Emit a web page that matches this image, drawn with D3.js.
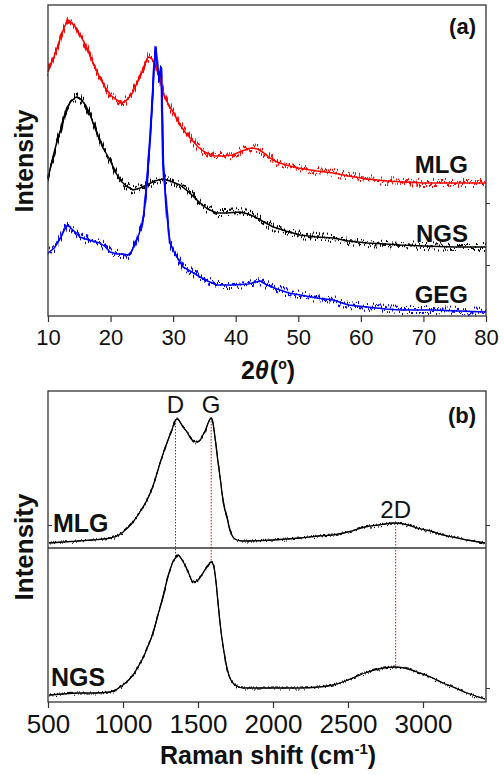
<!DOCTYPE html>
<html>
<head>
<meta charset="utf-8">
<script src="https://cdn.jsdelivr.net/npm/d3@7"></script>
<style>
  body { margin: 0; background: #fff; }
  text { font-family: "Liberation Sans", Arial, sans-serif; }
</style>
</head>
<body>
<svg id="fig" width="504" height="775"></svg>
<script>
// ---- XRD patterns, (a): [2theta (deg), intensity (a.u., offset stacked)] ----
const xrdMLG = [
  [10,244],[10.5,252],[11,260],[11.5,269],[12,278],[12.6,289],[13.2,296],[13.8,293],
  [14.5,288],[15.2,280],[16,271],[17,256],[18.3,238],[19.2,228],[20,221],[21,216],
  [21.8,213],[22.6,216],[23.5,223],[24.3,234],[25,244],[25.6,254],[26,259],[26.5,258],
  [27,253],[27.5,244],[28,234],[28.5,221],[29.2,212],[30,204],[31,192],[32,183],
  [33,176],[34,169],[35,164],[36.5,160],[38,160],[39.5,161],[41,165],[42.5,168],
  [43.5,167],[44.5,163],[45.5,158],[46.6,154],[48,151],[50,148],[53,145],[55.6,143],
  [58,140],[61,137],[64,135],[67,134],[70,133],[75,133],[80,133]
];
const xrdNGS = [
  [10,138],[10.5,151],[11,164],[11.5,176],[12,186],[12.5,198],[13,208],[13.7,215],
  [14.5,219],[15.2,217],[16,211],[16.8,200],[17.8,183],[18.8,168],[19.9,156],[20.8,144],
  [21.5,136],[22.5,130],[23.6,126],[24.7,128],[25.8,131],[27,135],[28.4,137],[29.5,135],
  [31.1,131],[32.5,124],[34.3,113],[35.5,107],[37,103],[38.5,103],[40.7,104],[42,102],
  [43.4,98],[44.5,94],[46,89],[48,85],[50.3,81],[53,79],[55.6,78],[58,75],[61,73],
  [64,72],[66.3,71],[70,70],[75,69],[80,69]
];
const xrdGEG = [
  [10,63],[11,68],[12,78],[12.7,87],[13.2,91],[13.8,87],[14.5,83],[15.1,79],[16.5,76],
  [18.3,73],[19.2,69],[19.9,64],[21,62],[22,62],[22.8,61],[23.4,65],[23.9,73],[24.5,81],
  [25,91],[25.4,106],[25.8,133],[26.2,166],[26.6,206],[26.9,246],[27.2,269],[27.5,248],
  [27.8,236],[28.1,249],[28.4,153],[28.7,126],[29,103],[29.5,73],[30,66],[30.6,59],
  [31.6,49],[33,44],[34.3,39],[35.5,35],[37,31],[39.6,31],[42,32],[43.9,35],[45,31],
  [46.6,27],[48.5,23],[50.3,21],[53,18],[55.6,16],[58,11],[61,9],[64,7],[66.3,6],
  [71.5,6],[80,4]
];
const xrdSeries = [
  { name: "MLG", color: "#ff0000", data: xrdMLG },
  { name: "NGS", color: "#000000", data: xrdNGS },
  { name: "GEG", color: "#0000ff", data: xrdGEG }
];
const xrdTicks = [10, 20, 30, 40, 50, 60, 70, 80];
const xrdRightTicks = [51, 113];

// ---- Raman spectra, (b): [Raman shift (cm-1), intensity (a.u.)] ----
const ramanMLG = [
  [507,5],[600,6],[700,7],[800,8],[913,10],[960,12],[1000,16],[1067,26],[1113,36],
  [1160,48],[1200,62],[1227,75],[1258,90],[1293,105],[1330,120],[1350,128],[1365,129],
  [1380,126],[1400,121],[1427,116],[1450,110],[1470,107],[1493,106],[1515,108],[1533,113],
  [1550,118],[1565,124],[1588,130],[1600,125],[1613,111],[1630,90],[1647,71],[1665,50],
  [1680,38],[1693,31],[1710,20],[1733,11],[1760,8],[1800,7],[2000,8],[2180,10],[2300,12],
  [2400,13],[2500,16],[2613,21],[2700,23],[2818,25],[2900,23],[2960,20],[3050,17],
  [3133,13],[3200,11],[3293,8],[3413,5]
];
const ramanNGS = [
  [507,7],[600,8],[700,9],[800,9],[913,10],[960,13],[1000,17],[1067,27],[1100,35],
  [1133,44],[1167,56],[1200,69],[1233,87],[1267,105],[1290,120],[1313,132],[1335,141],
  [1350,144],[1367,147],[1390,143],[1413,137],[1440,128],[1467,120],[1500,122],[1533,129],
  [1560,135],[1588,140],[1605,136],[1620,120],[1633,100],[1647,79],[1665,58],[1680,44],
  [1693,34],[1710,25],[1733,19],[1760,16],[1800,14],[2000,14],[2180,14],[2300,15],
  [2400,17],[2500,22],[2613,29],[2700,33],[2818,35],[2900,33],[2960,30],[3050,25],
  [3133,19],[3200,15],[3293,9],[3350,6],[3413,3]
];
const ramanTicks = [500, 1000, 1500, 2000, 2500, 3000];
const peakLabels = ["D", "G", "2D"];
const peakShifts = [1350, 1588, 2818];
const peakMLG = [128, 130, 25];
const peakNGS = [144, 140, 35];

const svg = d3.select("#fig");
const frameColor = "#333";

// vertical-only jitter filter giving the traces their noisy band
const defs = svg.append("defs");
function grain(id, freq, amount, seed) {
  const f = defs.append("filter").attr("id", id)
    .attr("x", "-5%").attr("y", "-10%").attr("width", "110%").attr("height", "120%");
  f.append("feTurbulence").attr("type", "fractalNoise")
    .attr("baseFrequency", freq).attr("numOctaves", 1).attr("seed", seed).attr("result", "n");
  // stretch the red noise around 0.5, pin green to 0.5 so there is no sideways shift
  f.append("feColorMatrix").attr("in", "n").attr("type", "matrix")
    .attr("values", "3 0 0 0 -1  0 0 0 0 0.5  0 0 0 0 0  0 0 0 0 1").attr("result", "m");
  f.append("feDisplacementMap").attr("in", "SourceGraphic").attr("in2", "m")
    .attr("scale", amount).attr("xChannelSelector", "G").attr("yChannelSelector", "R");
}
grain("grain", "1.4 0.05", 8, 3);
grain("fine", "0.9 0.05", 3, 7);

// ================= (a) XRD =================
const A = { left: 48, right: 486, top: 5, bottom: 316 };
const xA = d3.scaleLinear().domain([10, 80]).range([A.left, A.right]);
const yA = d3.scaleLinear().domain([0, 311]).range([A.bottom, A.top]);
const lineA = d3.line().x(d => xA(d[0])).y(d => yA(d[1]));

const gA = svg.append("g");
// solid core of each pattern plus its jittered noise band
gA.append("g").selectAll("path").data(xrdSeries).join("path")
  .attr("d", d => lineA(d.data))
  .attr("fill", "none").attr("stroke", d => d.color)
  .attr("stroke-width", 1.5).attr("stroke-linejoin", "round");
gA.append("g").attr("filter", "url(#grain)")
  .selectAll("path").data(xrdSeries).join("path")
  .attr("d", d => lineA(d.data))
  .attr("fill", "none").attr("stroke", d => d.color)
  .attr("stroke-width", 2.2).attr("stroke-linejoin", "round");

gA.append("rect")
  .attr("x", A.left).attr("y", A.top)
  .attr("width", A.right - A.left).attr("height", A.bottom - A.top)
  .attr("fill", "none").attr("stroke", frameColor).attr("stroke-width", 1.3);

const axA = gA.append("g").attr("transform", `translate(0,${A.bottom})`)
  .call(d3.axisBottom(xA).tickValues(xrdTicks).tickSize(6).tickFormat(d3.format("d")));
axA.select(".domain").remove();
axA.selectAll("line").attr("stroke", frameColor).attr("stroke-width", 1.2);
axA.selectAll("text").attr("dy", null).attr("y", 29)
  .attr("font-size", 22).attr("fill", "#111")
  .attr("font-family", "Liberation Sans, Arial, sans-serif");

const rA = gA.append("g").attr("transform", `translate(${A.right},0)`)
  .call(d3.axisRight(yA).tickValues(xrdRightTicks).tickSize(4).tickFormat(""));
rA.select(".domain").remove();
rA.selectAll("line").attr("stroke", frameColor);

gA.selectAll("text.lbl").data([
  { t: "MLG", y: 173 }, { t: "NGS", y: 242 }, { t: "GEG", y: 303 }
]).join("text").attr("class", "lbl")
  .attr("x", 468).attr("y", d => d.y).attr("text-anchor", "end")
  .attr("font-size", 24).attr("font-weight", "bold").attr("fill", "#111")
  .text(d => d.t);

gA.append("text").attr("x", 476).attr("y", 33.5).attr("text-anchor", "end")
  .attr("font-size", 22).attr("font-weight", "bold").attr("fill", "#111").text("(a)");

gA.append("text").attr("transform", "translate(33,161) rotate(-90)")
  .attr("text-anchor", "middle").attr("font-size", 25).attr("font-weight", "bold")
  .attr("fill", "#111").text("Intensity");

const tA = gA.append("text").attr("x", 268).attr("y", 379).attr("text-anchor", "middle")
  .attr("font-family", "DejaVu Serif, Liberation Serif, serif")
  .attr("font-size", 25).attr("font-weight", "bold").attr("fill", "#111");
tA.append("tspan").text("2");
tA.append("tspan").attr("font-style", "italic").text("θ");
tA.append("tspan").attr("dx", 1).text("(");
tA.append("tspan").attr("font-size", 14).attr("dy", -10).text("o");
tA.append("tspan").attr("dy", 10).text(")");

// ================= (b) Raman =================
const B = { left: 48, right: 486, top: 391, mid: 548, bottom: 702 };
const xB = d3.scaleLinear().domain([500, 3420]).range([B.left, B.right]);
const yMLG = d3.scaleLinear().domain([0, 157]).range([B.mid, B.top]);
const yNGS = d3.scaleLinear().domain([0, 154]).range([B.bottom, B.mid]);

const gB = svg.append("g");

// dotted guides joining the same band in both spectra
gB.selectAll("line.peak").data(peakShifts).join("line").attr("class", "peak")
  .attr("x1", d => xB(d)).attr("x2", d => xB(d))
  .attr("y1", (d, i) => yMLG(peakMLG[i])).attr("y2", (d, i) => yNGS(peakNGS[i]))
  .attr("stroke", "#ff0000").attr("stroke-width", 1).attr("stroke-dasharray", "1.5,1.5");

const ramanSeries = [
  { data: ramanMLG, y: yMLG },
  { data: ramanNGS, y: yNGS }
];
const ramanPath = s => d3.line().curve(d3.curveMonotoneX)
  .x(d => xB(d[0])).y(d => s.y(d[1]))(s.data);
gB.append("g").selectAll("path").data(ramanSeries).join("path")
  .attr("d", ramanPath).attr("fill", "none").attr("stroke", "#000").attr("stroke-width", 1.3);
gB.append("g").attr("filter", "url(#fine)")
  .selectAll("path").data(ramanSeries).join("path")
  .attr("d", ramanPath).attr("fill", "none").attr("stroke", "#000").attr("stroke-width", 1.1);

gB.append("rect")
  .attr("x", B.left).attr("y", B.top)
  .attr("width", B.right - B.left).attr("height", B.bottom - B.top)
  .attr("fill", "none").attr("stroke", frameColor).attr("stroke-width", 1.3);
gB.append("line").attr("x1", B.left).attr("x2", B.right)
  .attr("y1", B.mid).attr("y2", B.mid).attr("stroke", frameColor).attr("stroke-width", 1.3);

const axB = gB.append("g").attr("transform", `translate(0,${B.bottom})`)
  .call(d3.axisBottom(xB).tickValues(ramanTicks).tickSize(6).tickFormat(d3.format("d")));
axB.select(".domain").remove();
axB.selectAll("line").attr("stroke", frameColor).attr("stroke-width", 1.2);
axB.selectAll("text").attr("dy", null).attr("y", 31)
  .attr("font-size", 26).attr("fill", "#111")
  .attr("font-family", "Liberation Sans, Arial, sans-serif");

[[yMLG, [23]], [yNGS, [14]]].forEach(([s, v]) => {
  const r = gB.append("g").attr("transform", `translate(${B.right},0)`)
    .call(d3.axisRight(s).tickValues(v).tickSize(4).tickFormat(""));
  r.select(".domain").remove();
  r.selectAll("line").attr("stroke", frameColor);
});
const lB = gB.append("g").attr("transform", `translate(${B.left},0)`)
  .call(d3.axisRight(yMLG).tickValues([23]).tickSize(4).tickFormat(""));
lB.select(".domain").remove();
lB.selectAll("line").attr("stroke", frameColor);

gB.selectAll("text.pk").data(peakShifts).join("text").attr("class", "pk")
  .attr("x", d => xB(d)).attr("y", (d, i) => i < 2 ? 413 : 518)
  .attr("text-anchor", "middle").attr("font-size", 24).attr("fill", "#111")
  .text((d, i) => peakLabels[i]);

gB.append("text").attr("x", 53).attr("y", 532).attr("font-size", 25)
  .attr("font-weight", "bold").attr("fill", "#111").text("MLG");
gB.append("text").attr("x", 51).attr("y", 686).attr("font-size", 25)
  .attr("font-weight", "bold").attr("fill", "#111").text("NGS");

gB.append("text").attr("x", 476).attr("y", 423).attr("text-anchor", "end")
  .attr("font-size", 22).attr("font-weight", "bold").attr("fill", "#111").text("(b)");

gB.append("text").attr("transform", "translate(33,547) rotate(-90)")
  .attr("text-anchor", "middle").attr("font-size", 26).attr("font-weight", "bold")
  .attr("fill", "#111").text("Intensity");

const tB = gB.append("text").attr("x", 268).attr("y", 764).attr("text-anchor", "middle")
  .attr("font-size", 25).attr("font-weight", "bold").attr("fill", "#111");
tB.append("tspan").text("Raman shift (cm");
tB.append("tspan").attr("font-size", 15).attr("dy", -10).text("-1");
tB.append("tspan").attr("dy", 10).text(")");
</script>
</body>
</html>
